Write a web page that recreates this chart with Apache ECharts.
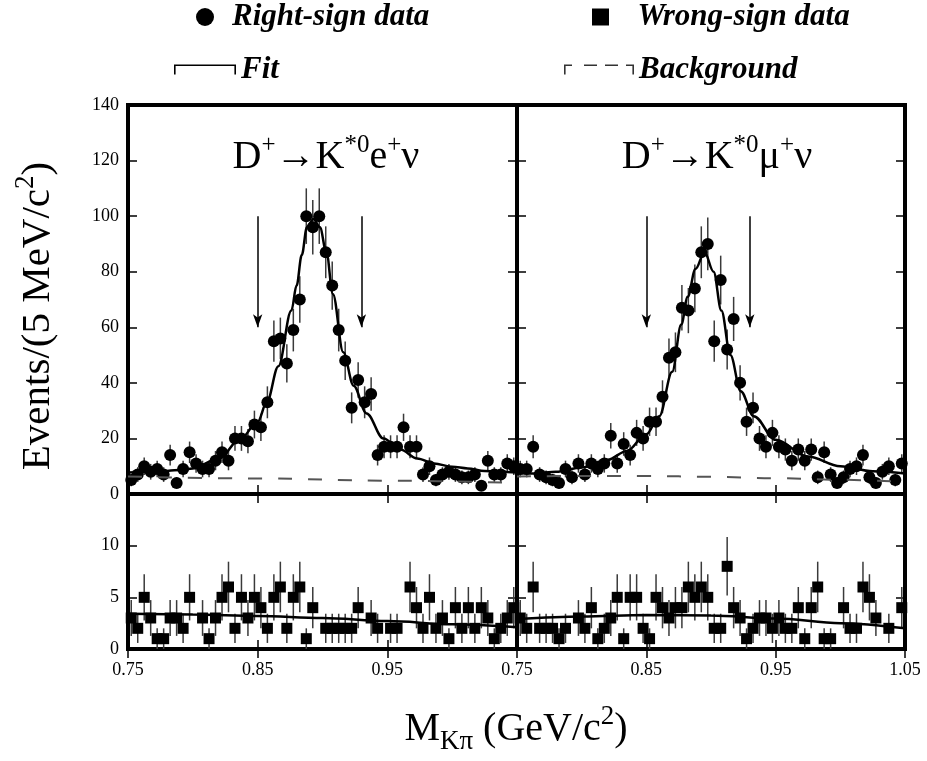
<!DOCTYPE html>
<html><head><meta charset="utf-8">
<script src="https://cdn.jsdelivr.net/npm/echarts@6/dist/echarts.min.js"></script>
<style>html,body{margin:0;padding:0;background:#fff}#c{width:927px;height:761px}</style>
</head><body><div id="c"></div>
<script>
// ---- data ----
const binCenters = [0.7525,0.7575,0.7625,0.7675,0.7725,0.7775,0.7825,0.7875,0.7925,0.7975,
  0.8025,0.8075,0.8125,0.8175,0.8225,0.8275,0.8325,0.8375,0.8425,0.8475,
  0.8525,0.8575,0.8625,0.8675,0.8725,0.8775,0.8825,0.8875,0.8925,0.8975,
  0.9025,0.9075,0.9125,0.9175,0.9225,0.9275,0.9325,0.9375,0.9425,0.9475,
  0.9525,0.9575,0.9625,0.9675,0.9725,0.9775,0.9825,0.9875,0.9925,0.9975,
  1.0025,1.0075,1.0125,1.0175,1.0225,1.0275,1.0325,1.0375,1.0425,1.0475];
const rightSignE = [5,7,10,8,9,7,14,4,9,15, 11,9,9,12,15,12,20,20,19,25,
  24,33,55,56,47,59,70,100,96,100, 87,75,59,48,31,41,33,36,14,17,
  17,17,24,17,17,7,10,5,7,8, 7,6,6,7,3,12,7,7,11,10];
const rightSignMu = [9,9,17,7,6,5,4,9,6,11, 7,11,9,11,21,11,18,14,22,20,
  26,26,35,49,51,67,66,74,87,90, 55,77,52,63,40,26,31,20,17,22,
  17,16,12,16,12,16,6,15,7,4, 6,9,10,14,6,4,8,10,5,11];
const wrongSignE = [3,2,5,3,1,1,3,3,2,5, 0,3,1,3,5,6,2,5,3,5,
  4,2,5,6,2,5,6,1,4,0, 2,2,2,2,2,4,0,3,2,0,
  2,2,0,6,4,2,5,2,3,1, 4,2,4,2,4,3,1,2,3,4];
const wrongSignMu = [3,2,6,2,2,2,1,2,0,3, 2,4,1,2,3,5,1,5,5,2,
  1,5,4,3,4,4,6,5,6,5, 2,2,8,4,3,1,2,3,3,2,
  3,2,2,4,1,4,6,1,1,0, 4,2,2,6,5,3,0,2,0,4];
const fitEX = [0.75,0.77,0.79,0.80,0.82,0.837,0.85,0.857,0.866,0.876,0.880,0.884,0.888,0.893,0.898,0.903,0.908,0.916,0.924,0.934,0.947,0.960,0.973,0.986,1.000,1.012,1.025,1.05];
const fitEY = [7.7,8.0,8.6,9.2,12.8,20,26,33,46,66,75,86,96,99,96,87,72,51,39,29,20,16,12.8,11,9.8,9.2,8.3,7.7];
const fitMuX = [0.75,0.765,0.78,0.80,0.82,0.835,0.85,0.86,0.87,0.877,0.882,0.888,0.895,0.902,0.908,0.915,0.923,0.933,0.95,0.975,1.00,1.025,1.05];
const fitMuY = [7.5,7.4,8.0,9.5,12.3,15.5,21.5,28,44,61,71,81,87,80,66,50,37,28,19.5,13.5,10,8.2,7.4];
const bgEX = [0.75,0.85,0.95,1.05];
const bgEY = [6.3,5.6,4.8,4.0];
const bgMuX = [0.75,0.80,0.85,0.90,0.95,1.00,1.05];
const bgMuY = [6.3,6.5,6.5,6.2,5.7,5.1,4.4];
const wsFitEX = [0.75,0.80,0.85,0.90,0.95,1.00,1.05];
const wsFitEY = [3.4,3.35,3.2,3.0,2.7,2.4,2.1];
const wsFitMuX = [0.75,0.80,0.85,0.90,0.95,1.00,1.05];
const wsFitMuY = [2.9,3.15,3.3,3.25,2.95,2.5,2.0];
const arrowMass = [0.85, 0.93];
const arrowSpan = [100, 60];
const massRange = [0.75, 1.05], massStep = 0.1;
const topRange = [0, 140], topStep = 20;
const botRange = [0, 15], botStep = 5;
const legendNames = ['Right-sign data','Wrong-sign data','Fit','Background'];

// ---- chart ----
const chart = echarts.init(document.getElementById('c'), null, {renderer:'canvas'});
const SERIF = 'Liberation Serif';
const pts = ys => binCenters.map((x,i)=>[x, ys[i]]).filter(p=>p[1]>0);
const pairs = (xs, ys) => xs.map((x,i)=>[x, ys[i]]);

const grids = [
  {left:128, top:105, width:389, height:389},
  {left:517, top:105, width:388, height:389},
  {left:128, top:494, width:389, height:155},
  {left:517, top:494, width:388, height:155}
].map(g=>Object.assign(g,{show:true, borderColor:'#000', borderWidth:4, backgroundColor:'rgba(0,0,0,0)'}));

const tick = {show:true, inside:true, length:9, lineStyle:{color:'#000', width:1.5}};
const lbl = {fontFamily:SERIF, fontSize:18, color:'#000'};
const xAxes = [], yAxes = [];
for (let g=0; g<4; g++) {
  const bottomRow = g>=2;
  [true,false].forEach(isBottom=>{
    xAxes.push({type:'value', gridIndex:g, position:isBottom?'bottom':'top',
      min:massRange[0], max:massRange[1], interval:massStep,
      axisLine:{show:false}, axisTick:tick, splitLine:{show:false},
      axisLabel: Object.assign({show: isBottom && bottomRow, margin:12, showMinLabel:true,
        showMaxLabel: g===3, formatter:v=>v.toFixed(2)}, lbl)});
  });
  const r = bottomRow ? botRange : topRange, s = bottomRow ? botStep : topStep;
  [true,false].forEach(isLeft=>{
    yAxes.push({type:'value', gridIndex:g, position:isLeft?'left':'right',
      min:r[0], max:r[1], interval:s,
      axisLine:{show:false}, axisTick:tick, splitLine:{show:false},
      axisLabel: Object.assign({show: isLeft && (g===0||g===2), margin:9, showMinLabel:true,
        showMaxLabel: !bottomRow}, lbl)});
  });
}

function errBars(ys, ax) {
  return {type:'custom', xAxisIndex:ax, yAxisIndex:ax, z:2, silent:true, clip:true,
    data: pts(ys).map(p=>[p[0], p[1], Math.sqrt(p[1])]),
    encode:{x:0, y:1},
    renderItem:(params, api)=>{
      const x=api.value(0), y=api.value(1), e=api.value(2);
      const a=api.coord([x, y-e]), b=api.coord([x, y+e]);
      return {type:'line', shape:{x1:a[0],y1:a[1],x2:b[0],y2:b[1]}, style:{stroke:'#3a3a3a', lineWidth:1.5}};
    }};
}
function scatter(name, ys, ax, sym, size) {
  return {type:'scatter', name, xAxisIndex:ax, yAxisIndex:ax, z:3, symbol:sym, symbolSize:size,
    itemStyle:{color:'#000', opacity:1}, data: pts(ys)};
}
function line(name, xs, ys, ax, dashed, extra) {
  return Object.assign({type:'line', name, xAxisIndex:ax, yAxisIndex:ax, z:4, smooth:0.35, smoothMonotone:'x',
    symbol:'none', showSymbol:false, data: pairs(xs, ys),
    itemStyle:{color: dashed?'#444':'#000'},
    lineStyle: dashed ? {color:'#555', width:2, type:[14,16]} : {color:'#000', width:2.5}}, extra||{});
}
const arrows = {silent:true, symbol:['none','arrow'], symbolSize:[7,13], label:{show:false},
  lineStyle:{color:'#000', width:1.5, type:'solid'}, animation:false,
  data: arrowMass.map(x=>[{coord:[x, arrowSpan[0]]},{coord:[x, arrowSpan[1]]}])};

const series = [
  errBars(rightSignE, 0), errBars(rightSignMu, 2), errBars(wrongSignE, 4), errBars(wrongSignMu, 6),
  scatter(legendNames[0], rightSignE, 0, 'circle', 12), scatter(legendNames[0], rightSignMu, 2, 'circle', 12),
  scatter(legendNames[1], wrongSignE, 4, 'rect', 11), scatter(legendNames[1], wrongSignMu, 6, 'rect', 11),
  line(legendNames[2], fitEX, fitEY, 0, false, {markLine:arrows}),
  line(legendNames[2], fitMuX, fitMuY, 2, false, {markLine:arrows}),
  line(legendNames[2], wsFitEX, wsFitEY, 4, false),
  line(legendNames[2], wsFitMuX, wsFitMuY, 6, false),
  line(legendNames[3], bgEX, bgEY, 0, true),
  line(legendNames[3], bgMuX, bgMuY, 2, true)
];

const legT = {fontFamily:SERIF, fontStyle:'italic', fontWeight:'bold', fontSize:31, color:'#000'};
const legBase = {padding:0, selectedMode:false, textStyle:legT, itemStyle:{borderWidth:0}, symbolKeepAspect:true};
const legend = [
  Object.assign({}, legBase, {data:[{name:legendNames[0], icon:'circle'}], left:196, top:1.5, itemWidth:44, itemHeight:18}),
  Object.assign({}, legBase, {data:[{name:legendNames[1], icon:'path://M0,0H17V17H0Z'}], left:592, top:1.5, itemWidth:64, itemHeight:17}),
  Object.assign({}, legBase, {data:[{name:legendNames[2], icon:'path://M0,0H62V10H60.4V1.6H1.6V10H0Z'}], left:174, top:54, itemWidth:62, itemHeight:10}),
  Object.assign({}, legBase, {data:[{name:legendNames[3], icon:'path://M0,0H8V1.6H1.6V10H0ZM20,0H33V1.6H20ZM41,0H54V1.6H41ZM62,0H70V10H68.4V1.6H62Z'}], left:564, top:54, itemWidth:70, itemHeight:10, itemStyle:{borderWidth:0, color:'#333'}})
];

const richM = {fontFamily:SERIF, fontSize:40, lineHeight:48, fill:'#000'};
const richS = {fontFamily:SERIF, fontSize:25, lineHeight:18, verticalAlign:'top', fill:'#000'};
const mainT = {fontFamily:SERIF, fontSize:40, lineHeight:52, fill:'#000'};
const supT = {fontFamily:SERIF, fontSize:27, lineHeight:24, verticalAlign:'top', fill:'#000'};
const subT = {fontFamily:SERIF, fontSize:27, lineHeight:21, verticalAlign:'bottom', fill:'#000'};
const yMainT = Object.assign({}, mainT, {fontSize:41});
const graphic = [
  {type:'text', x:326, y:133, z:10, style:{text:'{m|D}{s|+}{m|\u2192K}{s|*0}{m|e}{s|+}{m|\u03bd}', rich:{m:richM, s:richS}, align:'center', verticalAlign:'top'}},
  {type:'text', x:717, y:133, z:10, style:{text:'{m|D}{s|+}{m|\u2192K}{s|*0}{m|\u03bc}{s|+}{m|\u03bd}', rich:{m:richM, s:richS}, align:'center', verticalAlign:'top'}},
  {type:'text', x:516, y:703, z:10, style:{text:'{m|M}{b|K\u03c0}{m| (GeV/c}{s|2}{m|)}',
     rich:{m:mainT, b:subT, s:supT}, align:'center', verticalAlign:'top'}},
  {type:'text', x:38, y:316, rotation:Math.PI/2, z:10, style:{text:'{m|Events/(5 MeV/c}{s|2}{m|)}',
     rich:{m:yMainT, s:supT}, align:'center', verticalAlign:'middle'}}
];

chart.setOption({animation:false, backgroundColor:'#fff', grid:grids, xAxis:xAxes, yAxis:yAxes, legend, series, graphic});
</script></body></html>
